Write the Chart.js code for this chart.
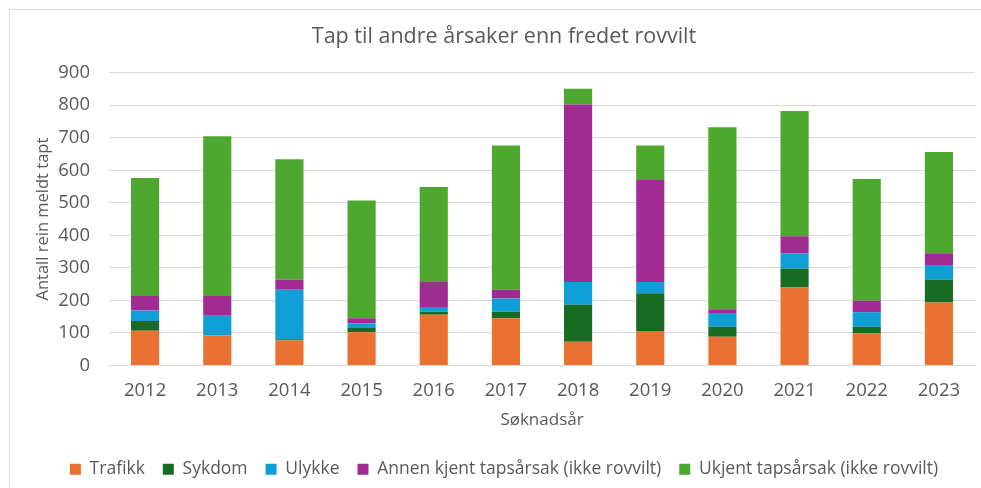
<!DOCTYPE html>
<html>
<head>
<meta charset="utf-8">
<script src="https://cdn.jsdelivr.net/npm/chart.js@4"></script>
<style>
  html, body { margin: 0; padding: 0; background: #fff; overflow: hidden; }
  #frame { position: absolute; left: 9px; top: 9px; width: 1000px; height: 1000px; border: 1px solid #d9d9d9; }
  #wrap { position: absolute; left: 0; top: 0; width: 981px; height: 488px; }
</style>
</head>
<body>
<div id="frame"></div>
<div id="wrap"><canvas id="myChart"></canvas></div>
<script>
var years = ["2012","2013","2014","2015","2016","2017","2018","2019","2020","2021","2022","2023"];
var trafikk = [107, 92, 77, 102, 156, 145, 73, 106, 88, 240, 99, 194];
var sykdom  = [30, 0, 4, 13, 9, 20, 114, 116, 31, 58, 20, 70];
var ulykke  = [32, 61, 152, 15, 15, 41, 70, 35, 42, 46, 45, 45];
var annen   = [45, 61, 31, 15, 77, 27, 545, 313, 12, 53, 35, 36];
var ukjent  = [362, 491, 370, 362, 292, 443, 49, 106, 559, 385, 374, 311];
var yTicks = [0, 100, 200, 300, 400, 500, 600, 700, 800, 900];

var txt = '#595959';
var fam = '"Open Sans", sans-serif';

function ds(label, data, color){
  return { label: label, data: data, backgroundColor: color, borderWidth: 0,
           barPercentage: 0.39, categoryPercentage: 1.0 };
}

var ctx = document.getElementById('myChart').getContext('2d');
var chart = new Chart(ctx, {
  type: 'bar',
  data: {
    labels: years,
    datasets: [
      ds("Trafikk", trafikk, '#E97132'),
      ds("Sykdom", sykdom, '#196B24'),
      ds("Ulykke", ulykke, '#0F9ED5'),
      ds("Annen kjent tapsårsak (ikke rovvilt)", annen, '#A02B93'),
      ds("Ukjent tapsårsak (ikke rovvilt)", ukjent, '#4EA72E')
    ]
  },
  options: {
    responsive: true,
    maintainAspectRatio: false,
    animation: false,
    layout: { padding: { left: 33, right: 6, top: 0, bottom: 0 } },
    plugins: {
      title: {
        display: true,
        text: 'Tap til andre årsaker enn fredet rovvilt',
        color: txt,
        font: { family: fam, size: 21.5, weight: 'normal' },
        padding: { top: 23.6, bottom: 23.3 }
      },
      legend: {
        position: 'bottom',
        labels: { color: txt, font: { family: fam, size: 17.5 }, boxWidth: 11, boxHeight: 11, padding: 18 }
      },
      tooltip: { enabled: false }
    },
    scales: {
      x: {
        stacked: true,
        grid: { display: false, drawTicks: false },
        border: { display: true, color: '#d9d9d9' },
        ticks: { color: txt, font: { family: fam, size: 18.5 }, padding: 14, maxRotation: 0 },
        title: { display: true, text: 'Søknadsår', color: txt, font: { family: fam, size: 17 }, padding: { top: 0, bottom: 12 } },
        afterFit: function(s){ s.height = 77; }
      },
      y: {
        stacked: true,
        min: 0, max: 900,
        afterBuildTicks: function(s){ s.ticks = yTicks.map(function(v){ return { value: v }; }); },
        grid: { color: '#d9d9d9', drawTicks: false },
        border: { display: false },
        ticks: { color: txt, font: { family: fam, size: 18.5 }, padding: 19 },
        title: { display: true, text: 'Antall rein meldt tapt', color: txt, font: { family: fam, size: 16.5 }, padding: { top: 0, bottom: 0 } },
        afterFit: function(s){ s.width = 76; }
      }
    }
  }
});
</script>
</body>
</html>
